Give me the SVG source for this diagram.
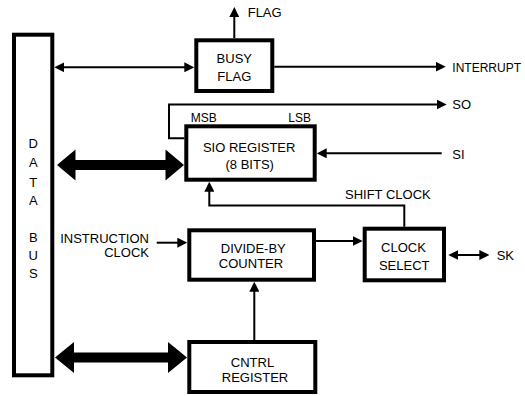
<svg xmlns="http://www.w3.org/2000/svg" width="525" height="396" viewBox="0 0 525 396">
<style>
.box{fill:#fff;stroke:#000;stroke-width:4}
.ln{fill:none;stroke:#000;stroke-width:2}
.bus{fill:#000;stroke:none}
text{font-family:"Liberation Sans",Arial,sans-serif;font-size:13px;fill:#000}
.sm{font-size:12px}
.c{text-anchor:middle}
.e{text-anchor:end}
</style>
<defs>
<marker id="ah" markerUnits="userSpaceOnUse" viewBox="0 0 10 10" refX="7" refY="5" markerWidth="10" markerHeight="10" orient="auto-start-reverse">
<path d="M0,0 L10,5 L0,10 z" fill="#000"/>
</marker>
</defs>
<rect width="525" height="396" fill="#fff"/>
<g id="connectors">
<line class="ln" x1="57.3" y1="67.3" x2="191.3" y2="67.3" marker-start="url(#ah)" marker-end="url(#ah)"/>
<line class="ln" x1="234.3" y1="38.3" x2="234.3" y2="10" marker-end="url(#ah)"/>
<line class="ln" x1="274.3" y1="66.7" x2="442.7" y2="66.7" marker-end="url(#ah)"/>
<polyline class="ln" points="184.3,138.3 169,138.3 169,104.5 443.7,104.5" marker-end="url(#ah)"/>
<line class="ln" x1="441.7" y1="153.3" x2="319.7" y2="153.3" marker-end="url(#ah)"/>
<polyline class="ln" points="404.3,226.7 404.3,205.5 209.3,205.5 209.3,184.7" marker-end="url(#ah)"/>
<line class="ln" x1="316" y1="241" x2="359.7" y2="241" marker-end="url(#ah)"/>
<line class="ln" x1="156.7" y1="242.7" x2="184.3" y2="242.7" marker-end="url(#ah)"/>
<line class="ln" x1="254.3" y1="340" x2="254.3" y2="284.7" marker-end="url(#ah)"/>
<line class="ln" x1="451.3" y1="255" x2="486.3" y2="255" marker-start="url(#ah)" marker-end="url(#ah)"/>
<polygon class="bus" points="57,165 75.5,149.5 75.5,160 165.5,160 165.5,149.5 184,165 165.5,180.5 165.5,170 75.5,170 75.5,180.5"/>
<polygon class="bus" points="55,357.5 74,342 74,352.5 168,352.5 168,342 187,357.5 168,373 168,362.5 74,362.5 74,373"/>
</g>
<g id="data-bus">
<rect class="box" x="14" y="34.7" width="38.3" height="340.6"/>
<text class="c" x="33.3" y="148">D</text>
<text class="c" x="33.3" y="167">A</text>
<text class="c" x="33.3" y="186.5">T</text>
<text class="c" x="33.3" y="205">A</text>
<text class="c" x="33.3" y="241.7">B</text>
<text class="c" x="33.3" y="260">U</text>
<text class="c" x="33.3" y="277.5">S</text>
</g>
<g id="busy-flag">
<rect class="box" x="196.3" y="40.3" width="76" height="50.7"/>
<text class="c" x="234.3" y="62.5">BUSY</text>
<text class="c" x="234.3" y="81.3">FLAG</text>
</g>
<g id="sio-register">
<rect class="box" x="186.3" y="126.3" width="128.4" height="53.4"/>
<text class="c" x="249.2" y="151.7">SIO REGISTER</text>
<text class="c" x="249.7" y="169">(8 BITS)</text>
</g>
<g id="divide-by-counter">
<rect class="box" x="189.3" y="230.3" width="124.7" height="49.4"/>
<text class="c" x="253.3" y="253.3">DIVIDE-BY</text>
<text class="c" x="251" y="268.3">COUNTER</text>
</g>
<g id="clock-select">
<rect class="box" x="364.7" y="228.7" width="79.3" height="51.6"/>
<text class="c" x="403.5" y="251.7">CLOCK</text>
<text class="c" x="404.2" y="270">SELECT</text>
</g>
<g id="cntrl-register">
<rect class="box" x="189.3" y="342" width="126" height="50"/>
<text class="c" x="252.5" y="366.7">CNTRL</text>
<text class="c" x="255" y="381.7">REGISTER</text>
</g>
<g id="labels">
<text x="247.7" y="17.3">FLAG</text>
<text x="452.3" y="71.5" style="font-size:12px">INTERRUPT</text>
<text x="452.3" y="109.3">SO</text>
<text class="sm" x="190.7" y="121.7">MSB</text>
<text class="sm" x="288.3" y="121.7">LSB</text>
<text x="452.3" y="159.3">SI</text>
<text x="345" y="199.3">SHIFT CLOCK</text>
<text class="e" x="149" y="242.7">INSTRUCTION</text>
<text class="e" x="149" y="257.3">CLOCK</text>
<text x="496.7" y="260">SK</text>
</g>
</svg>
